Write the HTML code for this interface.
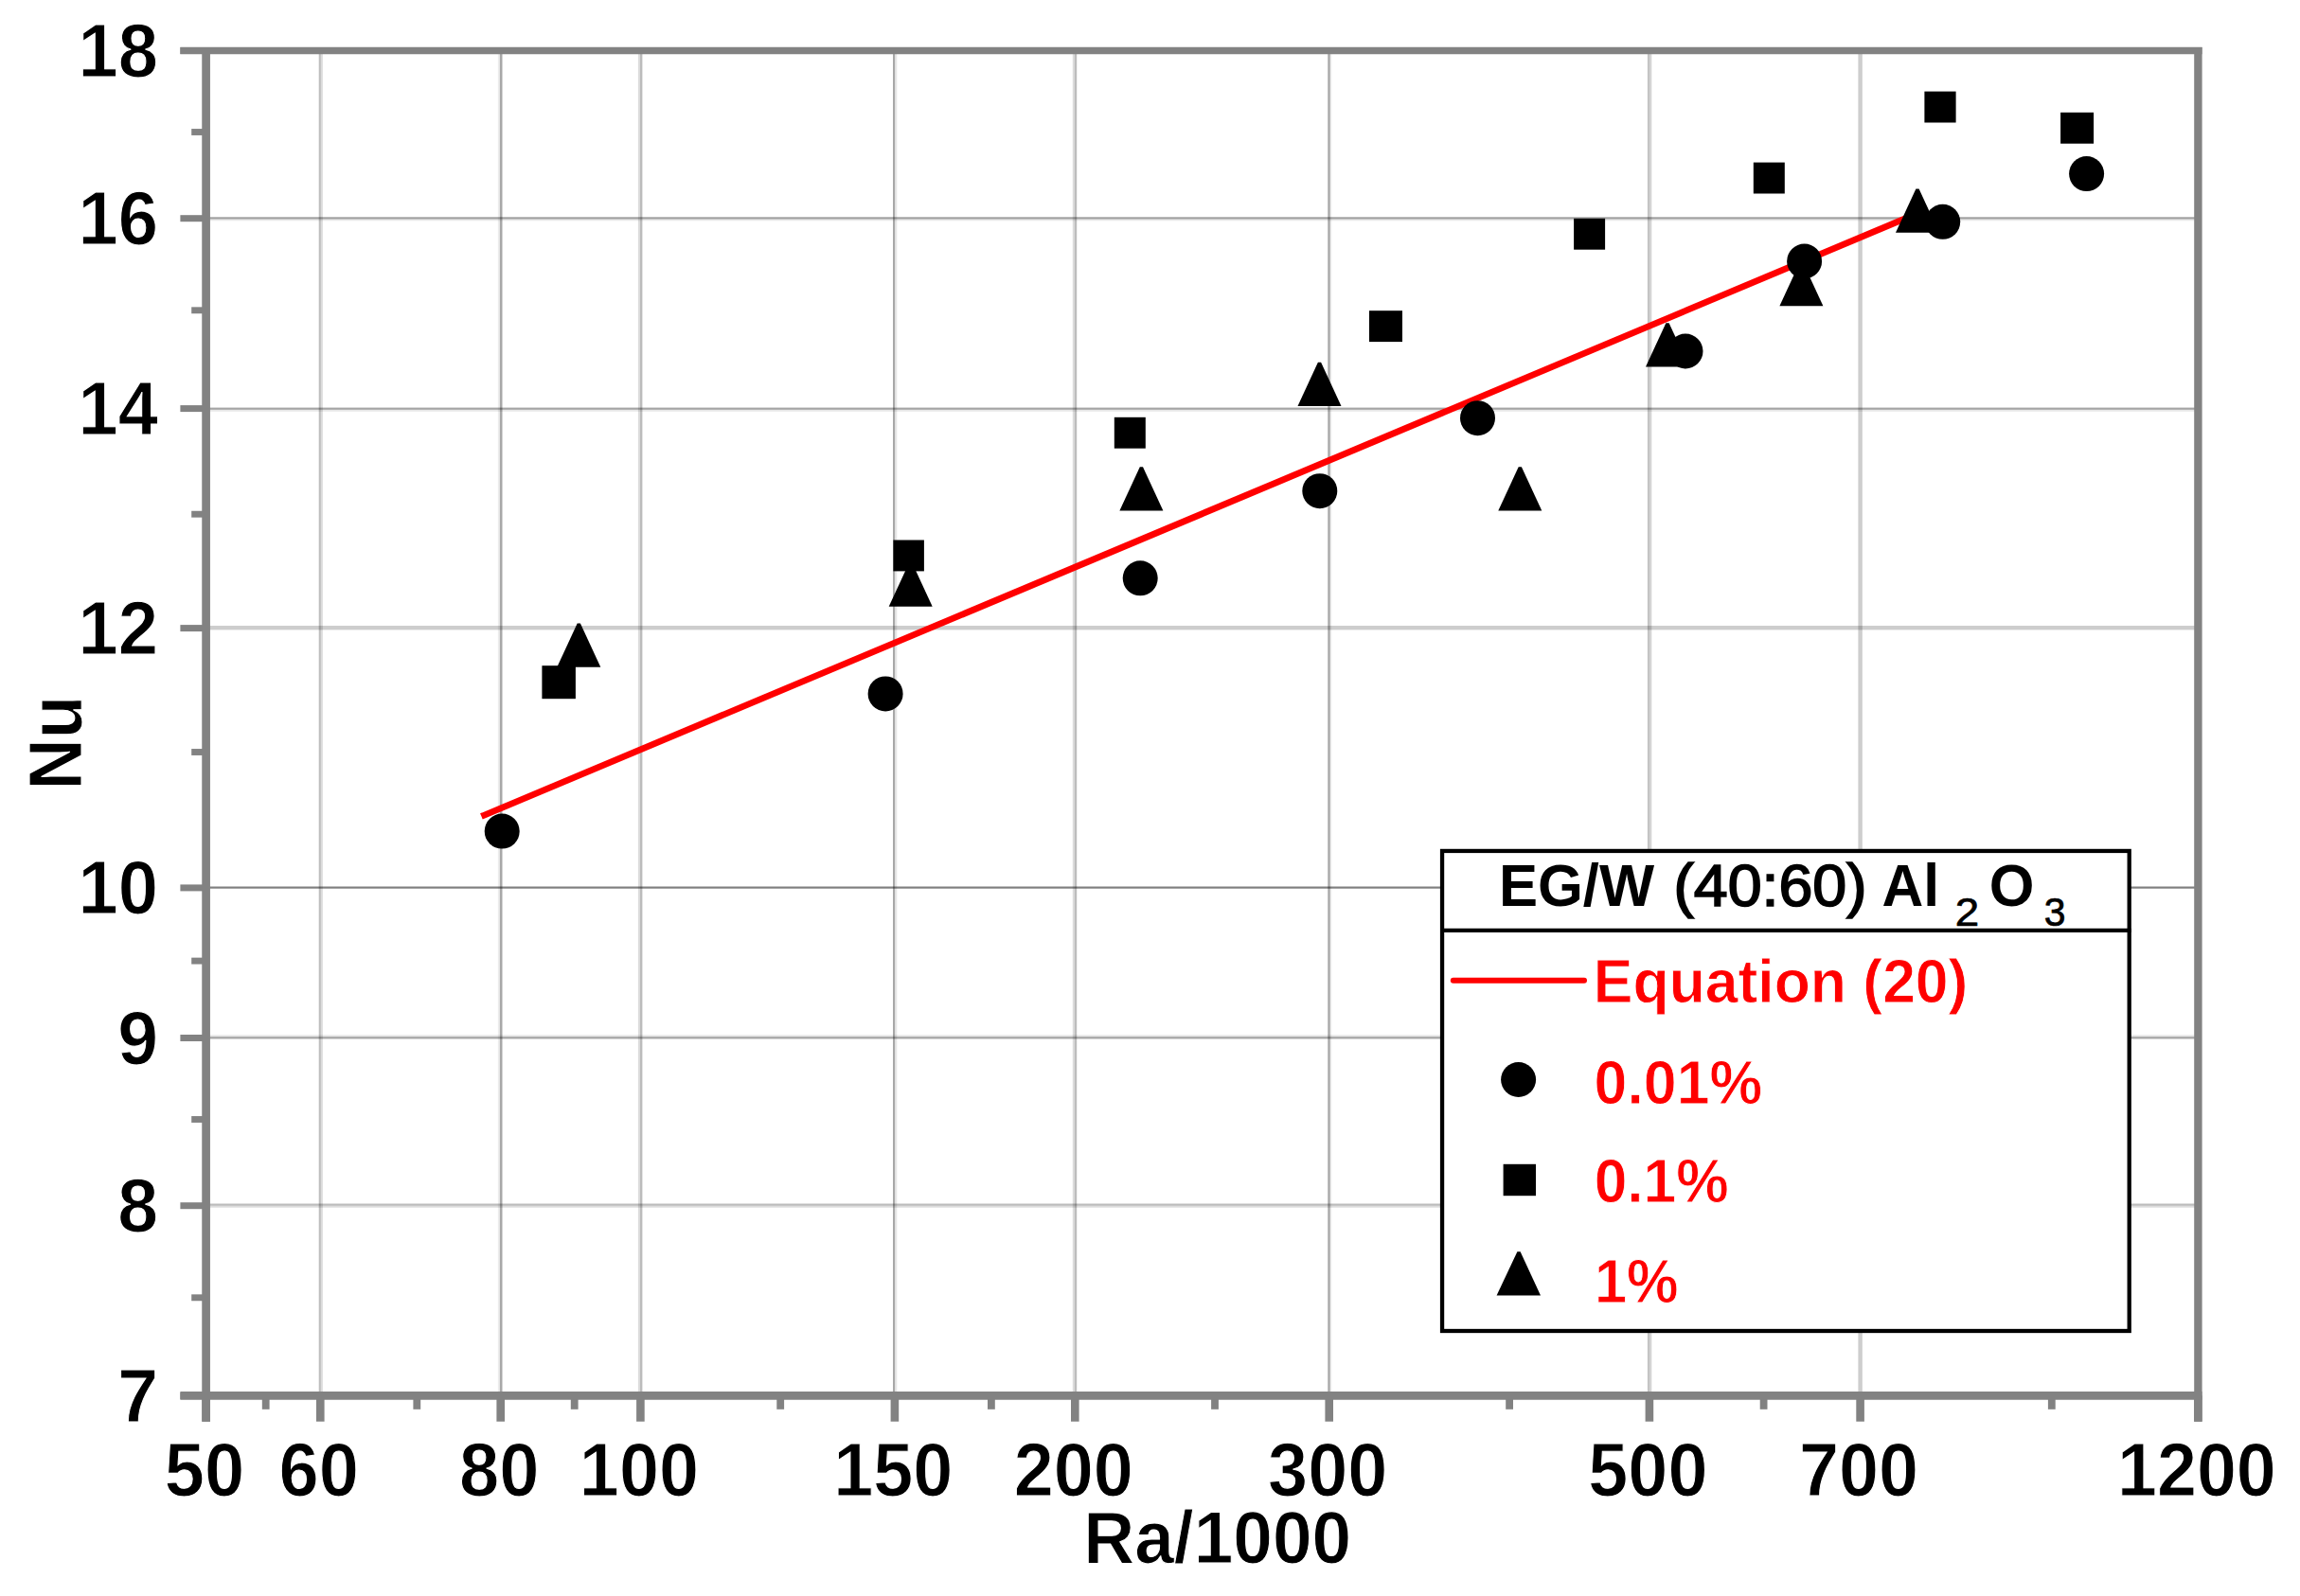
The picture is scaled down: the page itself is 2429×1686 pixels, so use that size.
<!DOCTYPE html>
<html lang="en"><head><meta charset="utf-8"><title>Nu vs Ra/1000</title>
<style>html,body{margin:0;padding:0;background:#fff}svg{display:block}text{font-family:"Liberation Sans",sans-serif}</style>
</head><body>
<svg width="2429" height="1686" viewBox="0 0 2429 1686">
<rect width="2429" height="1686" fill="#fff"/>
<g id="grid" fill="#000">
<rect x="336.7" y="53.3" width="2.1" height="1421.1" fill-opacity="0.255"/>
<rect x="338.8" y="53.3" width="2.1" height="1421.1" fill-opacity="0.137"/>
<rect x="525.9" y="53.3" width="2.0" height="1421.1" fill-opacity="0.075"/>
<rect x="527.9" y="53.3" width="2.6" height="1421.1" fill-opacity="0.341"/>
<rect x="673.9" y="53.3" width="2.1" height="1421.1" fill-opacity="0.137"/>
<rect x="676.0" y="53.3" width="2.4" height="1421.1" fill-opacity="0.263"/>
<rect x="943.0" y="53.3" width="2.1" height="1421.1" fill-opacity="0.341"/>
<rect x="945.1" y="53.3" width="2.2" height="1421.1" fill-opacity="0.098"/>
<rect x="1132.8" y="53.3" width="2.1" height="1421.1" fill-opacity="0.137"/>
<rect x="1134.9" y="53.3" width="2.3" height="1421.1" fill-opacity="0.263"/>
<rect x="1402.3" y="53.3" width="2.4" height="1421.1" fill-opacity="0.341"/>
<rect x="1404.7" y="53.3" width="1.6" height="1421.1" fill-opacity="0.075"/>
<rect x="1739.9" y="53.3" width="2.2" height="1421.1" fill-opacity="0.231"/>
<rect x="1742.1" y="53.3" width="2.2" height="1421.1" fill-opacity="0.169"/>
<rect x="1962.4" y="53.3" width="2.2" height="1421.1" fill-opacity="0.196"/>
<rect x="1964.6" y="53.3" width="2.2" height="1421.1" fill-opacity="0.196"/>
<rect x="217.6" y="229.3" width="2103.8" height="2.2" fill-opacity="0.373"/>
<rect x="217.6" y="231.5" width="2103.8" height="1.8" fill-opacity="0.090"/>
<rect x="217.6" y="430.6" width="2103.8" height="2.2" fill-opacity="0.357"/>
<rect x="217.6" y="432.8" width="2103.8" height="2.0" fill-opacity="0.090"/>
<rect x="217.6" y="661.0" width="2103.8" height="4.4" fill-opacity="0.196"/>
<rect x="217.6" y="936.5" width="2103.8" height="2.2" fill-opacity="0.498"/>
<rect x="217.6" y="1093.2" width="2103.8" height="1.9" fill-opacity="0.090"/>
<rect x="217.6" y="1095.1" width="2103.8" height="2.4" fill-opacity="0.341"/>
<rect x="217.6" y="1271.5" width="2103.8" height="2.2" fill-opacity="0.263"/>
<rect x="217.6" y="1273.7" width="2103.8" height="2.0" fill-opacity="0.137"/>
</g>
<g id="ticks" stroke="#828282" fill="none">
<line x1="190.4" y1="1474.6" x2="217.6" y2="1474.6" stroke-width="7"/>
<line x1="190.4" y1="1273.7" x2="217.6" y2="1273.7" stroke-width="7"/>
<line x1="190.4" y1="1096.5" x2="217.6" y2="1096.5" stroke-width="7"/>
<line x1="190.4" y1="937.9" x2="217.6" y2="937.9" stroke-width="7"/>
<line x1="190.4" y1="663.6" x2="217.6" y2="663.6" stroke-width="7"/>
<line x1="190.4" y1="431.6" x2="217.6" y2="431.6" stroke-width="7"/>
<line x1="190.4" y1="230.7" x2="217.6" y2="230.7" stroke-width="7"/>
<line x1="190.4" y1="53.5" x2="217.6" y2="53.5" stroke-width="7"/>
<line x1="202.2" y1="1370.8" x2="217.6" y2="1370.8" stroke-width="6.9"/>
<line x1="202.2" y1="1182.5" x2="217.6" y2="1182.5" stroke-width="6.9"/>
<line x1="202.2" y1="1015.1" x2="217.6" y2="1015.1" stroke-width="6.9"/>
<line x1="202.2" y1="794.5" x2="217.6" y2="794.5" stroke-width="6.9"/>
<line x1="202.2" y1="543.2" x2="217.6" y2="543.2" stroke-width="6.9"/>
<line x1="202.2" y1="327.8" x2="217.6" y2="327.8" stroke-width="6.9"/>
<line x1="202.2" y1="139.5" x2="217.6" y2="139.5" stroke-width="6.9"/>
<line x1="217.6" y1="1474.4" x2="217.6" y2="1501.7" stroke-width="8.6"/>
<line x1="338.3" y1="1474.4" x2="338.3" y2="1501.7" stroke-width="8.6"/>
<line x1="528.7" y1="1474.4" x2="528.7" y2="1501.7" stroke-width="8.6"/>
<line x1="676.4" y1="1474.4" x2="676.4" y2="1501.7" stroke-width="8.6"/>
<line x1="944.9" y1="1474.4" x2="944.9" y2="1501.7" stroke-width="8.6"/>
<line x1="1135.3" y1="1474.4" x2="1135.3" y2="1501.7" stroke-width="8.6"/>
<line x1="1403.7" y1="1474.4" x2="1403.7" y2="1501.7" stroke-width="8.6"/>
<line x1="1741.9" y1="1474.4" x2="1741.9" y2="1501.7" stroke-width="8.6"/>
<line x1="1964.6" y1="1474.4" x2="1964.6" y2="1501.7" stroke-width="8.6"/>
<line x1="2321.4" y1="1474.4" x2="2321.4" y2="1501.7" stroke-width="8.6"/>
<line x1="280.7" y1="1474.4" x2="280.7" y2="1488.8" stroke-width="7.8"/>
<line x1="440.3" y1="1474.4" x2="440.3" y2="1488.8" stroke-width="7.8"/>
<line x1="606.7" y1="1474.4" x2="606.7" y2="1488.8" stroke-width="7.8"/>
<line x1="824.2" y1="1474.4" x2="824.2" y2="1488.8" stroke-width="7.8"/>
<line x1="1046.9" y1="1474.4" x2="1046.9" y2="1488.8" stroke-width="7.8"/>
<line x1="1283.0" y1="1474.4" x2="1283.0" y2="1488.8" stroke-width="7.8"/>
<line x1="1594.1" y1="1474.4" x2="1594.1" y2="1488.8" stroke-width="7.8"/>
<line x1="1862.6" y1="1474.4" x2="1862.6" y2="1488.8" stroke-width="7.8"/>
<line x1="2166.8" y1="1474.4" x2="2166.8" y2="1488.8" stroke-width="7.8"/>
</g>
<g id="frame" stroke="#828282" fill="none">
<line x1="190.4" y1="53.5" x2="2325.6" y2="53.5" stroke-width="7.3"/>
<line x1="190.4" y1="1474.4" x2="2325.6" y2="1474.4" stroke-width="8.6"/>
<line x1="217.6" y1="49.9" x2="217.6" y2="1501.7" stroke-width="8.7"/>
<line x1="2321.4" y1="49.9" x2="2321.4" y2="1501.7" stroke-width="8.4"/>
</g>
<line id="fit" x1="508.4" y1="862.4" x2="2012" y2="230.9" stroke="#ff0000" stroke-width="6.8"/>
<g id="markers" fill="#000">
<circle cx="530.2" cy="878.1" r="18.5"/>
<circle cx="935.1" cy="732.9" r="18.5"/>
<circle cx="1204.2" cy="610.8" r="18.5"/>
<circle cx="1393.8" cy="518.7" r="18.5"/>
<circle cx="1560.5" cy="441.7" r="18.5"/>
<circle cx="1780" cy="371" r="18.5"/>
<circle cx="1905.6" cy="276" r="18.5"/>
<circle cx="2051.7" cy="234.3" r="18.5"/>
<circle cx="2203.6" cy="183.6" r="18.5"/>
<rect x="572.4" y="703.2" width="35.5" height="35.0"/>
<rect x="943.4" y="570.5" width="32.5" height="32.9"/>
<rect x="1176.8" y="440.8" width="33.0" height="32.9"/>
<rect x="1446" y="328.2" width="35.0" height="32.9"/>
<rect x="1662.1" y="230.8" width="33.0" height="32.9"/>
<rect x="1851.8" y="171.6" width="33.0" height="32.9"/>
<rect x="2032.4" y="96.6" width="33.2" height="32.9"/>
<rect x="2176.1" y="118.8" width="35.0" height="32.9"/>
<polygon points="588.3,704.7 634.3,704.7 612.9,658.5 609.7,658.5"/>
<polygon points="938.7,640.8 984.7,640.8 963.3,594.6 960.1,594.6"/>
<polygon points="1182.4,539.5 1228.4,539.5 1207.0,493.3 1203.8,493.3"/>
<polygon points="1370.5,428.9 1416.5,428.9 1395.1,382.7 1391.9,382.7"/>
<polygon points="1582.3,539.5 1628.3,539.5 1606.9,493.3 1603.7,493.3"/>
<polygon points="1738.0,387.4 1784.0,387.4 1762.6,341.2 1759.4,341.2"/>
<polygon points="1879.4,323.2 1925.4,323.2 1904.0,277.0 1900.8,277.0"/>
<polygon points="2002.0,245.8 2048.0,245.8 2026.6,199.6 2023.4,199.6"/>
</g>
<g id="ylabels">
<text transform="translate(124.20,1501.90) scale(1.0284,1.052)" font-size="75" font-weight="bold" fill="#000" stroke="#fff" stroke-width="1.0">7</text>
<text transform="translate(124.22,1300.98) scale(1.0270,1.052)" font-size="75" font-weight="bold" fill="#000" stroke="#fff" stroke-width="1.0">8</text>
<text transform="translate(124.22,1123.76) scale(1.0275,1.052)" font-size="75" font-weight="bold" fill="#000" stroke="#fff" stroke-width="1.0">9</text>
<text transform="translate(82.51,965.22) scale(1.0132,1.052)" font-size="75" font-weight="bold" fill="#000" stroke="#fff" stroke-width="1.0">10</text>
<text transform="translate(82.51,690.89) scale(1.0132,1.052)" font-size="75" font-weight="bold" fill="#000" stroke="#fff" stroke-width="1.0">12</text>
<text transform="translate(82.52,458.94) scale(1.0128,1.052)" font-size="75" font-weight="bold" fill="#000" stroke="#fff" stroke-width="1.0">14</text>
<text transform="translate(82.51,258.02) scale(1.0132,1.052)" font-size="75" font-weight="bold" fill="#000" stroke="#fff" stroke-width="1.0">16</text>
<text transform="translate(82.52,80.80) scale(1.0131,1.052)" font-size="75" font-weight="bold" fill="#000" stroke="#fff" stroke-width="1.0">18</text>
</g>
<g id="xlabels">
<text transform="translate(173.86,1580.10) scale(1.0128,1.052)" font-size="75" font-weight="bold" fill="#000" stroke="#fff" stroke-width="1.0">50</text>
<text transform="translate(294.55,1580.10) scale(1.0129,1.052)" font-size="75" font-weight="bold" fill="#000" stroke="#fff" stroke-width="1.0">60</text>
<text transform="translate(484.99,1580.10) scale(1.0128,1.052)" font-size="75" font-weight="bold" fill="#000" stroke="#fff" stroke-width="1.0">80</text>
<text transform="translate(611.84,1580.10) scale(1.0085,1.052)" font-size="75" font-weight="bold" fill="#000" stroke="#fff" stroke-width="1.0">100</text>
<text transform="translate(880.25,1580.10) scale(1.0085,1.052)" font-size="75" font-weight="bold" fill="#000" stroke="#fff" stroke-width="1.0">150</text>
<text transform="translate(1070.71,1580.10) scale(1.0084,1.052)" font-size="75" font-weight="bold" fill="#000" stroke="#fff" stroke-width="1.0">200</text>
<text transform="translate(1339.12,1580.10) scale(1.0083,1.052)" font-size="75" font-weight="bold" fill="#000" stroke="#fff" stroke-width="1.0">300</text>
<text transform="translate(1677.27,1580.10) scale(1.0084,1.052)" font-size="75" font-weight="bold" fill="#000" stroke="#fff" stroke-width="1.0">500</text>
<text transform="translate(1900.00,1580.10) scale(1.0084,1.052)" font-size="75" font-weight="bold" fill="#000" stroke="#fff" stroke-width="1.0">700</text>
<text transform="translate(2235.95,1580.10) scale(1.0063,1.052)" font-size="75" font-weight="bold" fill="#000" stroke="#fff" stroke-width="1.0">1200</text>
</g>
<text transform="translate(1144.19,1651.30) scale(0.9980,1.045)" font-size="75" font-weight="bold" fill="#000" stroke="#fff" stroke-width="1.0">Ra/1000</text>
<text transform="translate(85.70,834.62) rotate(-90) scale(1.0009,1.054)" font-size="75" font-weight="bold" fill="#000" stroke="#fff" stroke-width="1.0">Nu</text>
<g id="legend">
<rect x="1523.05" y="898.95" width="725.65" height="507.05" fill="#fff" stroke="#000" stroke-width="4.3"/>
<line x1="1521" y1="982.95" x2="2250.8" y2="982.95" stroke="#000" stroke-width="4.2"/>
<text transform="translate(1582.88,957.00) scale(1.0012,1.015)" font-size="61.5" font-weight="bold" fill="#000">EG/W</text>
<text transform="translate(1767.40,957.00) scale(1.0479,1.02)" font-size="61.5" font-weight="normal" fill="#000" stroke="#000" stroke-width="1.7">(40:60)</text>
<text transform="translate(1987.59,957.00) scale(0.9854,1.015)" font-size="61.5" font-weight="bold" fill="#000">Al</text>
<text transform="translate(2064.70,978.00) scale(1.1002,1.04)" font-size="41.5" font-weight="normal" fill="#000" stroke="#000" stroke-width="0.7">2</text>
<text transform="translate(2100.79,957.00) scale(0.9969,1.015)" font-size="61.5" font-weight="bold" fill="#000">O</text>
<text transform="translate(2158.84,978.00) scale(0.9860,1.04)" font-size="41.5" font-weight="normal" fill="#000" stroke="#000" stroke-width="0.7">3</text>
<line x1="1534.8" y1="1035.8" x2="1673" y2="1035.8" stroke="#ff0000" stroke-width="6" stroke-linecap="round"/>
<text transform="translate(1682.82,1058.80) scale(1.0159,1.06)" font-size="61.5" font-weight="bold" fill="#ff0000" stroke="#fff" stroke-width="0.8">Equation (20)</text>
<circle cx="1603.6" cy="1140.5" r="18.5" fill="#000"/>
<text transform="translate(1683.62,1165.90) scale(1.0186,1.06)" font-size="61.5" font-weight="bold" fill="#ff0000" stroke="#fff" stroke-width="0.8">0.01%</text>
<rect x="1587.6" y="1229.8" width="34.4" height="33.4" fill="#000"/>
<text transform="translate(1683.63,1270.40) scale(1.0138,1.06)" font-size="61.5" font-weight="bold" fill="#ff0000" stroke="#fff" stroke-width="0.8">0.1%</text>
<polygon points="1580.6,1368.4 1627,1368.4 1605.6,1322.2 1602.4,1322.2" fill="#000"/>
<text transform="translate(1683.94,1376.20) scale(0.9965,1.06)" font-size="61.5" font-weight="bold" fill="#ff0000" stroke="#fff" stroke-width="0.8">1%</text>
</g>
</svg>
</body></html>
